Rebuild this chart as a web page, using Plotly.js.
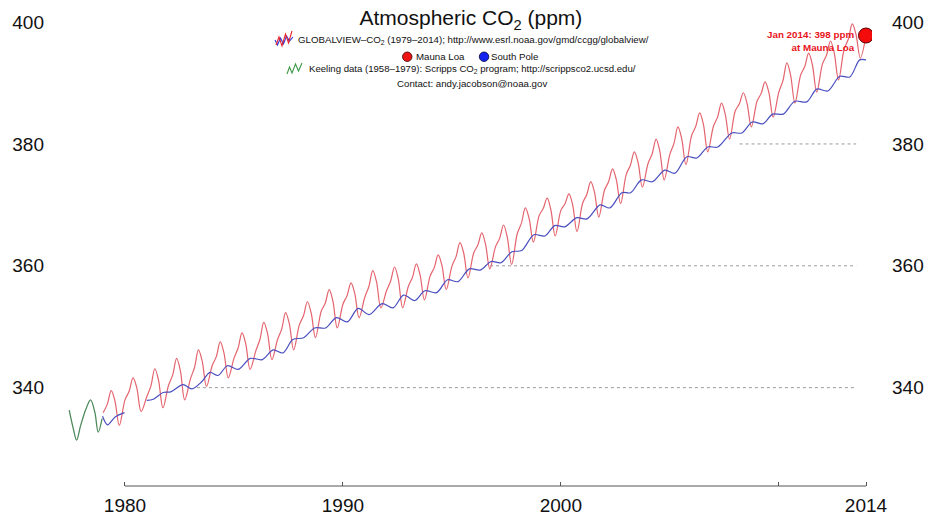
<!DOCTYPE html>
<html>
<head>
<meta charset="utf-8">
<script src="https://cdn.plot.ly/plotly-3.0.1.min.js"></script>
<style>html,body{margin:0;padding:0;background:#fff;}#chart{width:927px;height:520px;}</style>
</head>
<body>
<div id="chart"></div>
<script>
// ---- Data ----
// Mauna Loa (GLOBALVIEW-CO2), ppm per year at Jan, Mar, seasonal peak (May), Jul, seasonal trough (Sep/Oct)
const mloYears = [1979, 1980, 1981, 1982, 1983, 1984, 1985, 1986, 1987, 1988, 1989, 1990, 1991, 1992, 1993, 1994, 1995, 1996, 1997, 1998, 1999, 2000, 2001, 2002, 2003, 2004, 2005, 2006, 2007, 2008, 2009, 2010, 2011, 2012, 2013];
const mloJan = [335.9, 338.0, 338.5, 340.4, 341.4, 343.6, 344.8, 346.0, 347.9, 350.3, 352.5, 353.7, 354.8, 355.9, 356.6, 358.3, 359.9, 362.1, 363.1, 365.3, 368.2, 369.1, 370.3, 372.4, 375.0, 376.8, 378.3, 381.4, 382.9, 385.4, 387.0, 388.5, 391.3, 393.1, 395.6];
const mloMar = [337.3, 339.4, 340.3, 342.1, 343.3, 345.1, 346.5, 347.9, 349.6, 351.8, 353.9, 355.1, 356.6, 357.5, 358.1, 359.7, 361.5, 363.4, 364.5, 367.0, 369.4, 370.2, 371.7, 373.8, 376.5, 378.4, 380.1, 382.9, 384.4, 386.6, 388.3, 390.4, 392.7, 394.6, 397.2];
const mloPeak = [339.5, 341.6, 343.1, 344.8, 346.2, 347.5, 349.0, 350.7, 352.3, 354.1, 356.1, 357.2, 359.2, 359.8, 360.3, 361.8, 363.8, 365.4, 366.7, 369.5, 371.1, 371.8, 373.8, 375.9, 378.7, 380.8, 382.8, 385.1, 386.7, 388.4, 390.2, 393.3, 394.9, 396.9, 399.7];
const mloJul = [337.8, 340.0, 341.2, 342.8, 344.4, 345.7, 347.2, 348.9, 350.5, 352.3, 354.2, 355.5, 357.4, 357.8, 358.5, 360.1, 362.1, 363.6, 364.7, 367.8, 369.2, 370.0, 372.1, 374.2, 377.0, 378.8, 380.9, 383.2, 384.9, 386.7, 388.5, 391.3, 393.0, 395.0, 398.0];
const mloTrough = [333.8, 336.1, 336.7, 338.0, 340.2, 341.6, 343.0, 344.6, 346.2, 348.2, 349.8, 351.5, 353.1, 353.1, 354.4, 356.1, 358.0, 359.5, 360.2, 363.9, 364.9, 365.6, 368.0, 370.2, 372.9, 374.1, 376.6, 378.7, 380.8, 382.8, 384.4, 386.7, 388.5, 390.5, 394.1];
const mloLastYear = 2014.0;
const mloLastPpm = 397.8;
// calendar position (fraction of year) of each column above
const monthPos = [0.0, 0.19, 0.37, 0.54, 0.74];

// South Pole (GLOBALVIEW-CO2); null marks the 1980 data gap
const spoYear = [1978.97, 1979.2, 1979.55, 1979.98, 1980.5, 1981.0, 1981.3, 1981.75, 1982.1, 1982.66, 1983.07, 1983.53, 1983.9, 1984.27, 1984.7, 1985.2, 1985.75, 1986.3, 1986.8, 1987.25, 1987.7, 1988.2, 1988.7, 1989.2, 1989.7, 1990.2, 1990.7, 1991.2, 1991.8, 1992.3, 1992.78, 1993.3, 1993.76, 1994.3, 1994.8, 1995.28, 1995.8, 1996.3, 1996.8, 1997.25, 1997.75, 1998.2, 1998.76, 1999.27, 1999.72, 2000.18, 2000.73, 2001.2, 2001.8, 2002.25, 2002.8, 2003.2, 2003.7, 2004.2, 2004.77, 2005.23, 2005.78, 2006.24, 2006.74, 2007.2, 2007.84, 2008.3, 2008.78, 2009.27, 2009.72, 2010.2, 2010.73, 2011.28, 2011.74, 2012.25, 2012.8, 2013.26, 2013.71, 2014.0];
const spoPpm = [335.3, 333.9, 335.2, 335.9, null, 337.9, 338.1, 339.2, 339.3, 340.5, 339.8, 341.0, 342.5, 342.0, 343.6, 343.0, 344.8, 344.6, 346.2, 345.7, 347.9, 348.2, 349.8, 349.8, 351.5, 350.8, 353.0, 352.0, 353.8, 353.1, 355.2, 354.3, 355.9, 355.6, 357.7, 357.4, 359.5, 359.3, 360.7, 360.5, 362.3, 362.5, 365.1, 364.9, 366.6, 366.4, 367.9, 367.7, 370.0, 369.5, 372.0, 372.0, 374.1, 373.8, 375.7, 375.2, 377.9, 377.7, 379.5, 379.5, 381.8, 381.8, 383.6, 383.3, 384.9, 384.9, 387.0, 386.9, 389.0, 388.7, 391.1, 391.0, 393.8, 393.8];

// Keeling / Scripps record (tail shown)
const keelingYear = [1977.44, 1977.62, 1977.78, 1977.95, 1978.05, 1978.2, 1978.42, 1978.62, 1978.77, 1978.95];
const keelingPpm = [336.3, 333.4, 331.4, 333.6, 334.8, 336.4, 338.0, 335.9, 332.7, 334.9];

// Highlighted latest value
const latestYear = [2014.0];
const latestPpm = [397.8];

// Axis ticks
const xTickVals = [1980, 1990, 2000, 2014];
const xTickText = ['1980', '1990', '2000', '2014'];
const xMinorTicks = [2010];
const yTickVals = [340, 360, 380, 400];
const gridLevels = [340, 360, 380];
const gridStarts = [1983.3, 1996.75, 2008.2];

// Build the Mauna Loa line from the per-year columns
const mloX = [], mloY = [];
const cols = [mloJan, mloMar, mloPeak, mloJul, mloTrough];
mloYears.forEach((yr, i) => {
  cols.forEach((c, j) => { mloX.push(yr + monthPos[j]); mloY.push(c[i]); });
});
mloX.push(mloLastYear); mloY.push(mloLastPpm);

// ---- Layout helpers (pixel -> paper) ----
const L = 55, R = 55, T = 15, B = 34, W = 927, H = 520;
const pw = W - L - R, ph = H - T - B;
function px(x) { return (x - L) / pw; }
function py(y) { return (H - B - y) / ph; }
function path(pts) { return pts.map((p, i) => (i ? 'L' : 'M') + px(p[0]).toFixed(5) + ',' + py(p[1]).toFixed(5)).join(' '); }

const FONT = 'Liberation Sans, Arial, Helvetica, sans-serif';

const traces = [
  { x: keelingYear, y: keelingPpm, type: 'scatter', mode: 'lines',
    line: { color: '#4f8a5c', width: 1.3, shape: 'spline', smoothing: 1 }, hoverinfo: 'skip' },
  { x: mloX, y: mloY, type: 'scatter', mode: 'lines',
    line: { color: '#e4646e', width: 1.2, shape: 'spline', smoothing: 1 }, hoverinfo: 'skip' },
  { x: spoYear, y: spoPpm, type: 'scatter', mode: 'lines', connectgaps: false,
    line: { color: '#4a4fc0', width: 1.2, shape: 'spline', smoothing: 0.9 }, hoverinfo: 'skip' },
  { x: latestYear, y: latestPpm, type: 'scatter', mode: 'markers', yaxis: 'y2',
    marker: { color: '#f40c0c', size: 15, line: { color: '#5a0000', width: 1 } }, hoverinfo: 'skip' }
];

const shapes = [];
gridLevels.forEach((g, i) => {
  shapes.push({ type: 'line', xref: 'x', yref: 'y', x0: gridStarts[i], x1: 2013.55, y0: g, y1: g,
    line: { color: '#9a9a9a', width: 1, dash: 'dot' }, layer: 'below' });
});
// x-axis line (range frame 1980..2014)
shapes.push({ type: 'line', xref: 'x', yref: 'paper', x0: 1980, x1: 2014, y0: 0, y1: 0,
  line: { color: '#555', width: 1 } });
// header legend icons
shapes.push({ type: 'path', xref: 'paper', yref: 'paper',
  path: path([[275, 40], [277.5, 45], [280.5, 38], [283.5, 44], [286.5, 36], [289.5, 41], [293, 37]]),
  line: { color: '#2a34d8', width: 1.1 } });
shapes.push({ type: 'path', xref: 'paper', yref: 'paper',
  path: path([[276, 45], [279, 37], [282, 46], [285.5, 34], [288.5, 43], [292, 31]]),
  line: { color: '#e8222a', width: 1.1 } });
shapes.push({ type: 'path', xref: 'paper', yref: 'paper',
  path: path([[287, 74], [289.5, 67], [292, 73], [295.5, 64], [298.5, 71], [302, 63]]),
  line: { color: '#3f9a4a', width: 1.1 } });
// header marker circles
shapes.push({ type: 'circle', xref: 'paper', yref: 'paper', x0: px(402.5), x1: px(412), y0: py(61.5), y1: py(52),
  fillcolor: '#ee1414', line: { color: '#3a0000', width: 0.8 } });
shapes.push({ type: 'circle', xref: 'paper', yref: 'paper', x0: px(479.3), x1: px(488.8), y0: py(61.5), y1: py(52),
  fillcolor: '#1422ee', line: { color: '#00003a', width: 0.8 } });

const hdrFont = { family: FONT, size: 9.7, color: '#111' };
const annotations = [
  { xref: 'paper', yref: 'paper', x: px(296), y: py(40), xanchor: 'left', yanchor: 'middle', showarrow: false,
    text: 'GLOBALVIEW–CO<sub>2</sub> (1979–2014); http://www.esrl.noaa.gov/gmd/ccgg/globalview/', font: hdrFont },
  { xref: 'paper', yref: 'paper', x: px(414), y: py(57), xanchor: 'left', yanchor: 'middle', showarrow: false,
    text: 'Mauna Loa', font: hdrFont },
  { xref: 'paper', yref: 'paper', x: px(488.5), y: py(57), xanchor: 'left', yanchor: 'middle', showarrow: false,
    text: 'South Pole', font: hdrFont },
  { xref: 'paper', yref: 'paper', x: px(306.5), y: py(69.5), xanchor: 'left', yanchor: 'middle', showarrow: false,
    text: 'Keeling data (1958–1979): Scripps CO<sub>2</sub> program; http://scrippsco2.ucsd.edu/', font: { family: FONT, size: 9.6, color: '#111' } },
  { xref: 'paper', yref: 'paper', x: px(471.5), y: py(84), xanchor: 'center', yanchor: 'middle', showarrow: false,
    text: 'Contact: andy.jacobson@noaa.gov', font: hdrFont },
  { xref: 'paper', yref: 'paper', x: px(857), y: py(41), xanchor: 'right', yanchor: 'middle', showarrow: false, align: 'right',
    text: '<b>Jan 2014: 398 ppm</b><br><b>at Mauna Loa</b>', font: { family: FONT, size: 9.8, color: '#e8141c' } }
];

const yRange = [400 - (H - B - 22.1) / 6.0925, 400 + (22.1 - T) / 6.0925];
const tickFont = { family: FONT, size: 19, color: '#111' };

const layout = {
  width: W, height: H,
  margin: { l: L, r: R, t: T, b: B, pad: 0 },
  paper_bgcolor: '#ffffff', plot_bgcolor: '#ffffff',
  showlegend: false,
  title: { text: 'Atmospheric CO<sub>2</sub> (ppm)', font: { family: FONT, size: 21, color: '#111' },
    x: 0.508, xanchor: 'center', xref: 'container', y: 1 - 18 / H, yanchor: 'middle', yref: 'container' },
  xaxis: {
    range: [1980 - (125 - L) / 21.8, 2014 + (W - R - 866) / 21.8],
    showgrid: false, zeroline: false, showline: false,
    ticks: 'inside', ticklen: 4, tickwidth: 1, tickcolor: '#555',
    tickvals: xTickVals, ticktext: xTickText, tickfont: tickFont, ticklabelstandoff: 6,
    minor: { tickvals: xMinorTicks, ticks: 'inside', ticklen: 4, tickwidth: 1, tickcolor: '#555', showgrid: false }
  },
  yaxis: {
    range: yRange, showgrid: false, zeroline: false, showline: false, ticks: '',
    tickvals: yTickVals, tickfont: tickFont, ticklabelstandoff: 10
  },
  yaxis2: {
    range: yRange, overlaying: 'y', side: 'right', showgrid: false, zeroline: false, showline: false, ticks: '',
    tickvals: yTickVals, tickfont: tickFont, ticklabelstandoff: 19
  },
  shapes: shapes,
  annotations: annotations
};

Plotly.newPlot('chart', traces, layout, { displayModeBar: false, staticPlot: true });
</script>
</body>
</html>
